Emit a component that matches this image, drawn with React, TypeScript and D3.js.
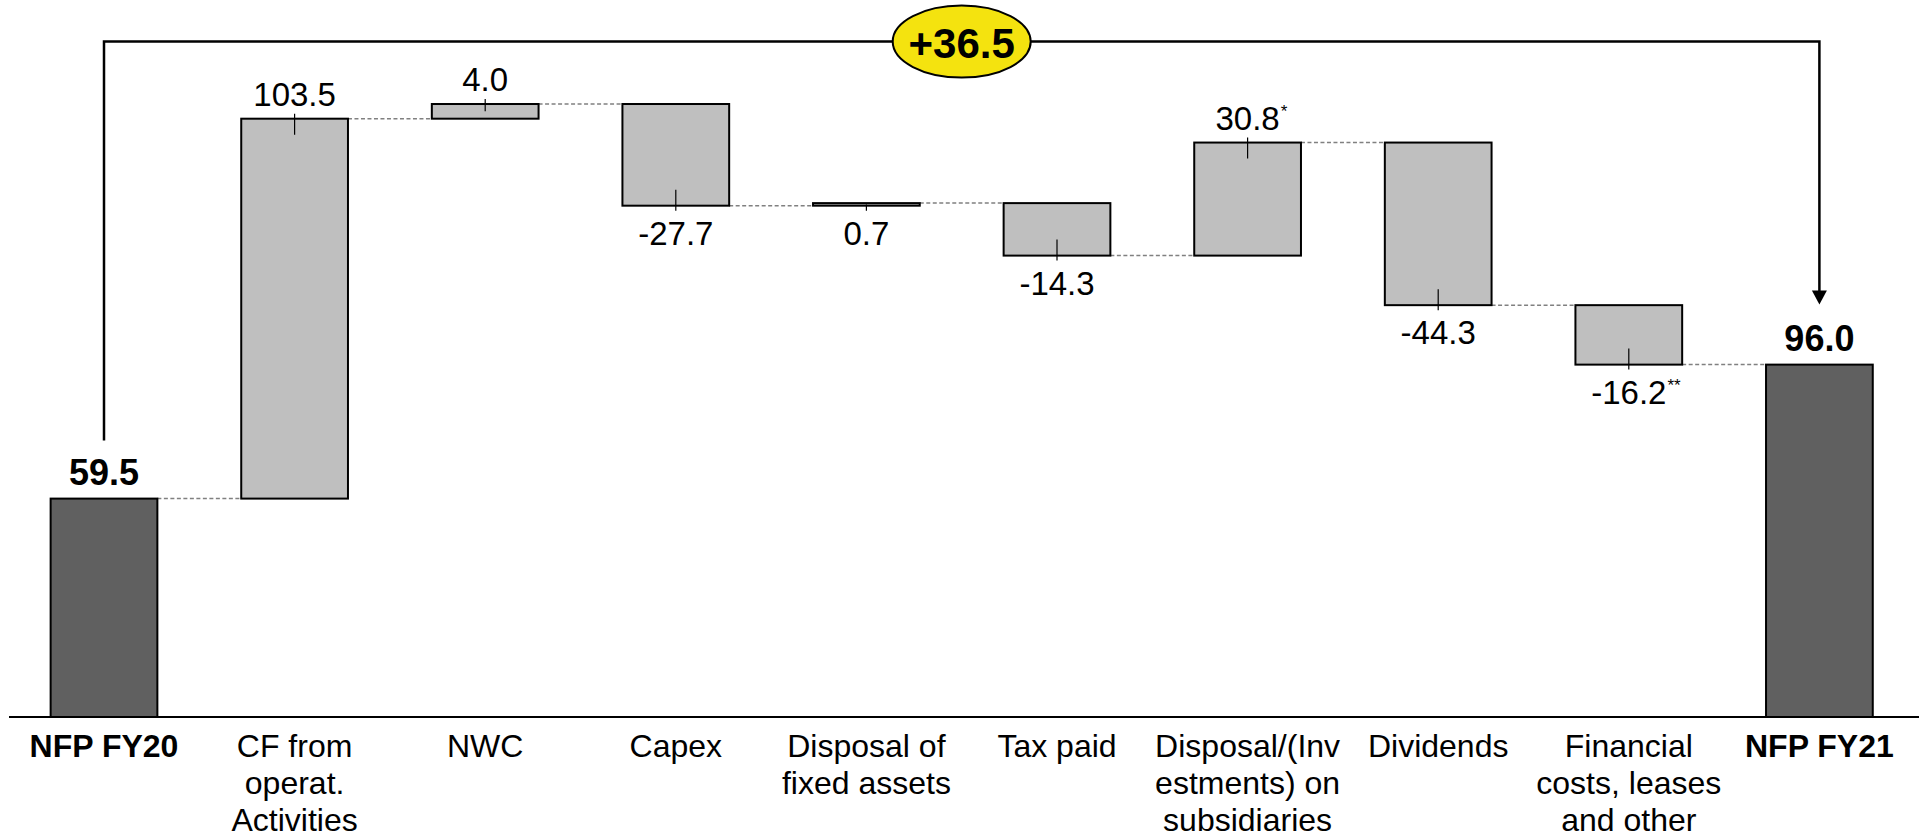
import React from "react";
import * as d3 from "d3";

const categories = [
  "NFP FY20",
  "CF from\noperat.\nActivities",
  "NWC",
  "Capex",
  "Disposal of\nfixed assets",
  "Tax paid",
  "Disposal/(Inv\nestments) on\nsubsidiaries",
  "Dividends",
  "Financial\ncosts, leases\nand other",
  "NFP FY21",
];
const values = [59.5, 103.5, 4.0, -27.7, 0.7, -14.3, 30.8, -44.3, -16.2, 96.0];
const isTotal = [true, false, false, false, false, false, false, false, false, true];
const footnotes = ["", "", "", "", "", "", "*", "", "**", ""];
const labelBelow = [false, false, false, true, true, true, false, true, true, false];
const deltaLabel = "+36.5";

const W = 1919;
const H = 839;
const FONT = "'Liberation Sans', Arial, Helvetica, sans-serif";

const charW: Record<string, number> = { "-": 0.333, ".": 0.278 };
const textWidth = (s: string, size: number) =>
  s.split("").reduce((a, ch) => a + (charW[ch] ?? 0.556), 0) * size;

export default function App() {
  React.useEffect(() => {
    document.body.style.margin = "0";
  }, []);

  const x = d3
    .scaleBand<string>()
    .domain(categories)
    .range([8.7, 1914.7])
    .paddingInner(0.44)
    .paddingOuter(0.22);
  const y = d3.scaleLinear().domain([0, 170]).range([717, 93]);
  const bw = x.bandwidth();

  let cum = 0;
  const bars = categories.map((c, i) => {
    let start: number, end: number;
    if (isTotal[i]) {
      start = 0;
      end = values[i];
      cum = values[i];
    } else {
      start = cum;
      end = cum + values[i];
      cum = end;
    }
    const x0 = x(c) as number;
    const yTop = y(Math.max(start, end));
    const yBot = y(Math.min(start, end));
    return { c, i, start, end, x0, cx: x0 + bw / 2, yTop, yBot };
  });

  const first = bars[0];
  const last = bars[bars.length - 1];
  const bracketY = 41.6;
  const midX = (first.cx + last.cx) / 2;
  const arrowTip = last.yTop - 60;

  return (
    <svg
      width={W}
      height={H}
      style={{ display: "block", position: "absolute", left: 0, top: 0, background: "#fff" }}
      fontFamily={FONT}
    >
      {/* connectors */}
      {bars.slice(0, -1).map((b, i) => {
        const nb = bars[i + 1];
        const level = y(b.end);
        return (
          <line
            key={"con" + i}
            x1={b.x0 + bw}
            x2={nb.x0}
            y1={level}
            y2={level}
            stroke="#808080"
            strokeWidth={1.5}
            strokeDasharray="4,2.5"
          />
        );
      })}
      {/* bars */}
      {bars.map((b) => (
        <rect
          key={"bar" + b.i}
          x={b.x0}
          y={b.yTop}
          width={bw}
          height={Math.max(0.5, b.yBot - b.yTop)}
          fill={isTotal[b.i] ? "#606060" : "#BFBFBF"}
          stroke="#000"
          strokeWidth={2}
        />
      ))}
      {/* ticks */}
      {bars.map((b) => {
        if (isTotal[b.i]) return null;
        const h = b.yBot - b.yTop;
        const inward = Math.min(16, h / 2);
        const below = labelBelow[b.i];
        const y1 = below ? b.yBot - inward : b.yTop - 5;
        const y2 = below ? b.yBot + 5 : b.yTop + inward;
        return (
          <line key={"tk" + b.i} x1={b.cx} x2={b.cx} y1={y1} y2={y2} stroke="#000" strokeWidth={1.2} />
        );
      })}
      {/* axis */}
      <line x1={9} x2={W} y1={y(0)} y2={y(0)} stroke="#000" strokeWidth={2} />
      {/* value labels */}
      {bars.map((b) => {
        const total = isTotal[b.i];
        const below = labelBelow[b.i];
        const ty = total ? b.yTop - 14 : below ? b.yBot + 39 : b.yTop - 13;
        const txt = values[b.i].toFixed(1);
        const size = total ? 36 : 33;
        return (
          <g key={"lbl" + b.i}>
            <text
              x={b.cx}
              y={ty}
              textAnchor="middle"
              fontSize={size}
              fontWeight={total ? "bold" : "normal"}
              fill="#000"
            >
              {txt}
            </text>
            {footnotes[b.i] && (
              <text x={b.cx + textWidth(txt, size) / 2 + 1} y={ty - 13} fontSize={17} fill="#000">
                {footnotes[b.i]}
              </text>
            )}
          </g>
        );
      })}
      {/* category labels */}
      {bars.map((b) => (
        <text
          key={"cat" + b.i}
          x={b.cx}
          y={757}
          textAnchor="middle"
          fontSize={32}
          fontWeight={isTotal[b.i] ? "bold" : "normal"}
          fill="#000"
        >
          {categories[b.i].split("\n").map((ln, k) => (
            <tspan key={k} x={b.cx} dy={k === 0 ? 0 : 37}>
              {ln}
            </tspan>
          ))}
        </text>
      ))}
      {/* bracket */}
      <path
        d={`M${first.cx},${first.yTop - 58} V${bracketY} H${last.cx} V${arrowTip - 12}`}
        fill="none"
        stroke="#000"
        strokeWidth={2.5}
      />
      <polygon
        points={`${last.cx - 7.5},${arrowTip - 14} ${last.cx + 7.5},${arrowTip - 14} ${last.cx},${arrowTip}`}
        fill="#000"
      />
      <ellipse cx={midX} cy={bracketY} rx={69} ry={36} fill="#F4E30F" stroke="#000" strokeWidth={2} />
      <text x={midX} y={bracketY + 16} textAnchor="middle" fontSize={42} fontWeight="bold" fill="#000">
        {deltaLabel}
      </text>
    </svg>
  );
}
